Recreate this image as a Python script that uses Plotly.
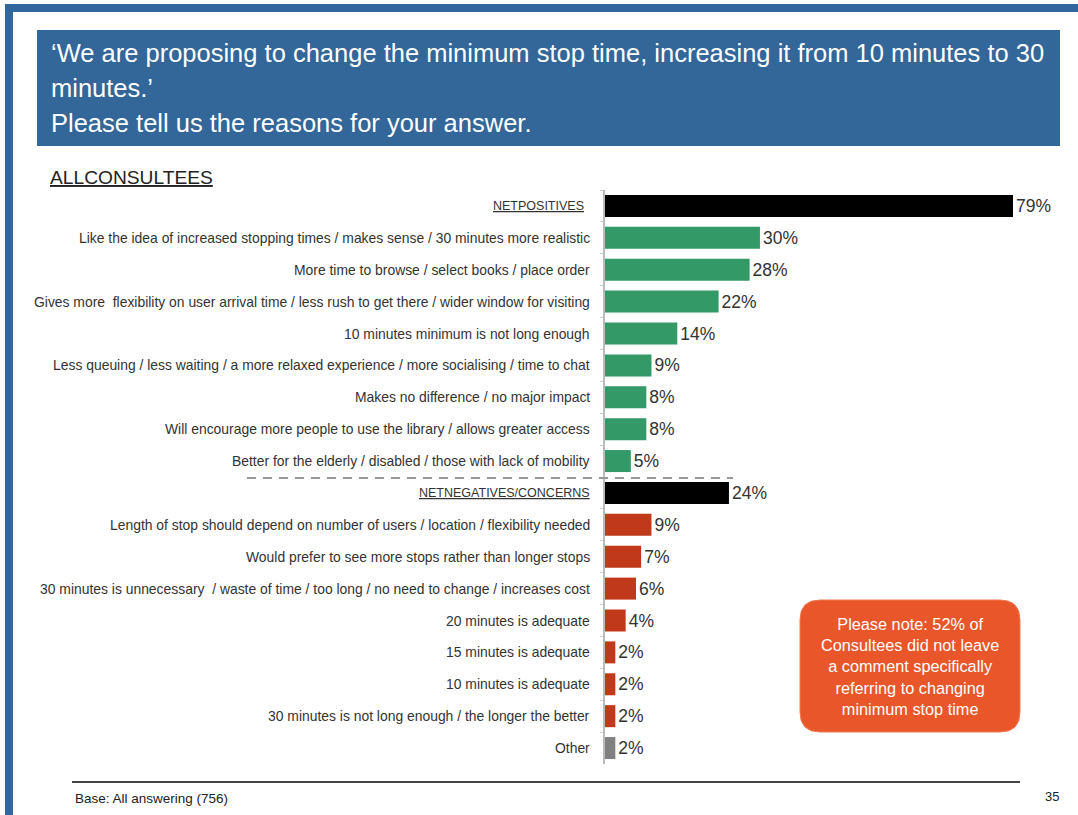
import plotly.graph_objects as go

W, H = 1078, 815

# Response categories (top to bottom) and percentage of consultees
categories = [
    "NETPOSITIVES",
    "Like the idea of increased stopping times / makes sense / 30 minutes more realistic",
    "More time to browse / select books / place order",
    "Gives more  flexibility on user arrival time / less rush to get there / wider window for visiting",
    "10 minutes minimum is not long enough",
    "Less queuing / less waiting / a more relaxed experience / more socialising / time to chat",
    "Makes no difference / no major impact",
    "Will encourage more people to use the library / allows greater access",
    "Better for the elderly / disabled / those with lack of mobility",
    "NETNEGATIVES/CONCERNS",
    "Length of stop should depend on number of users / location / flexibility needed",
    "Would prefer to see more stops rather than longer stops",
    "30 minutes is unnecessary  / waste of time / too long / no need to change / increases cost",
    "20 minutes is adequate",
    "15 minutes is adequate",
    "10 minutes is adequate",
    "30 minutes is not long enough / the longer the better",
    "Other",
]
values = [79, 30, 28, 22, 14, 9, 8, 8, 5, 24, 9, 7, 6, 4, 2, 2, 2, 2]
groups = ["net", "pos", "pos", "pos", "pos", "pos", "pos", "pos", "pos",
          "net", "neg", "neg", "neg", "neg", "neg", "neg", "neg", "other"]
headers = {"NETPOSITIVES", "NETNEGATIVES/CONCERNS"}

palette = {"net": "#000000", "pos": "#339966", "neg": "#C0391B", "other": "#808080"}
bar_colors = [palette[g] for g in groups]

FONT = "Liberation Sans, Arial, sans-serif"

# pixel geometry of the plotting area
x0_px, x_end_px = 605, W
px_per_pct = (1013 - 605) / 79.0
y_top_px, y_bot_px = 190, 764


def px_x(x):
    return x / W


def px_y(y):
    return 1 - y / H


fig = go.Figure()
fig.add_trace(go.Bar(
    x=values,
    y=categories,
    orientation="h",
    marker=dict(color=bar_colors, line=dict(width=0)),
    width=0.69,
    text=[f"{v}%" for v in values],
    textposition="outside",
    textfont=dict(family=FONT, size=17.5, color="#333333"),
    constraintext="none",
    cliponaxis=False,
    hoverinfo="skip",
))

annotations = []
# category labels, right-aligned against the axis
for c in categories:
    is_head = c in headers
    annotations.append(dict(
        x=px_x(592 - (6 if c == "NETPOSITIVES" else 0)), xref="paper",
        y=c, yref="y",
        text=f"<u>{c}</u>" if is_head else c,
        showarrow=False, xanchor="right", yanchor="middle",
        font=dict(family=FONT, size=12.5 if is_head else 13.9, color="#333333"),
    ))

# title block text
title_lines = [
    "‘We are proposing to change the minimum stop time, increasing it from 10 minutes to 30",
    "minutes.’",
    "Please tell us the reasons for your answer.",
]
for line, yy in zip(title_lines, [53, 88, 123]):
    annotations.append(dict(
        x=px_x(49), y=px_y(yy), xref="paper", yref="paper",
        text=line, showarrow=False, xanchor="left", yanchor="middle",
        font=dict(family=FONT, size=25.5, color="#FFFFFF"),
    ))

annotations += [
    dict(x=px_x(48), y=px_y(178), xref="paper", yref="paper",
         text="<u>ALLCONSULTEES</u>", showarrow=False, xanchor="left", yanchor="middle",
         font=dict(family=FONT, size=19.2, color="#222222")),
    dict(x=px_x(73), y=px_y(798), xref="paper", yref="paper",
         text="Base: All answering (756)", showarrow=False, xanchor="left", yanchor="middle",
         font=dict(family=FONT, size=13.5, color="#222222")),
    dict(x=px_x(1061), y=px_y(796), xref="paper", yref="paper",
         text="35", showarrow=False, xanchor="right", yanchor="middle",
         font=dict(family=FONT, size=13, color="#222222")),
    dict(x=px_x(910), y=px_y(666), xref="paper", yref="paper",
         text="Please note: 52% of<br>Consultees did not leave<br>a comment specifically<br>"
              "referring to changing<br>minimum stop time",
         showarrow=False, xanchor="center", yanchor="middle", align="center",
         font=dict(family=FONT, size=16.3, color="#FFFFFF")),
]

shapes = [
    # page frame
    dict(type="rect", xref="paper", yref="paper", x0=px_x(5), x1=px_x(13),
         y0=px_y(815), y1=px_y(4), fillcolor="#33669C", line=dict(width=0), layer="below"),
    dict(type="rect", xref="paper", yref="paper", x0=px_x(5), x1=px_x(1078),
         y0=px_y(12), y1=px_y(4), fillcolor="#33669C", line=dict(width=0), layer="below"),
    # title box
    dict(type="rect", xref="paper", yref="paper", x0=px_x(37), x1=px_x(1060),
         y0=px_y(146), y1=px_y(30), fillcolor="#336699", line=dict(width=0), layer="below"),
    # separator between positive and negative groups
    dict(type="line", xref="paper", yref="paper", x0=px_x(247), x1=px_x(733),
         y0=px_y(478), y1=px_y(478), line=dict(color="#999999", width=2, dash="9px,7px")),
    # footer rule
    dict(type="line", xref="paper", yref="paper", x0=px_x(72), x1=px_x(1020),
         y0=px_y(782), y1=px_y(782), line=dict(color="#444444", width=2)),
    # note box
    dict(type="path", xref="paper", yref="paper",
         path=("M {a},{t} L {b},{t} Q {r},{t} {r},{tt} L {r},{bb} Q {r},{bo} {b},{bo} "
               "L {a},{bo} Q {l},{bo} {l},{bb} L {l},{tt} Q {l},{t} {a},{t} Z").format(
             l=px_x(800), r=px_x(1020), a=px_x(820), b=px_x(1000),
             t=px_y(600), tt=px_y(620), bb=px_y(712), bo=px_y(732)),
         fillcolor="#E8562A", line=dict(color="#F07A50", width=1), layer="below"),
]

fig.update_layout(
    width=W, height=H,
    margin=dict(l=0, r=0, t=0, b=0),
    paper_bgcolor="#FFFFFF", plot_bgcolor="rgba(0,0,0,0)",
    showlegend=False,
    xaxis=dict(
        domain=[px_x(x0_px), 1.0],
        range=[0, (x_end_px - x0_px) / px_per_pct],
        visible=False, fixedrange=True,
    ),
    yaxis=dict(
        domain=[px_y(y_bot_px), px_y(y_top_px)],
        categoryorder="array", categoryarray=categories,
        range=[len(categories) - 0.5, -0.5],
        showticklabels=False,
        showline=True, linecolor="#BBBBBB", linewidth=1.5,
        ticks="outside", ticklen=3, tickcolor="#CCCCCC", tickson="boundaries",
        showgrid=False, zeroline=False, fixedrange=True,
    ),
    annotations=annotations,
    shapes=shapes,
)

fig.write_html("out.html")
